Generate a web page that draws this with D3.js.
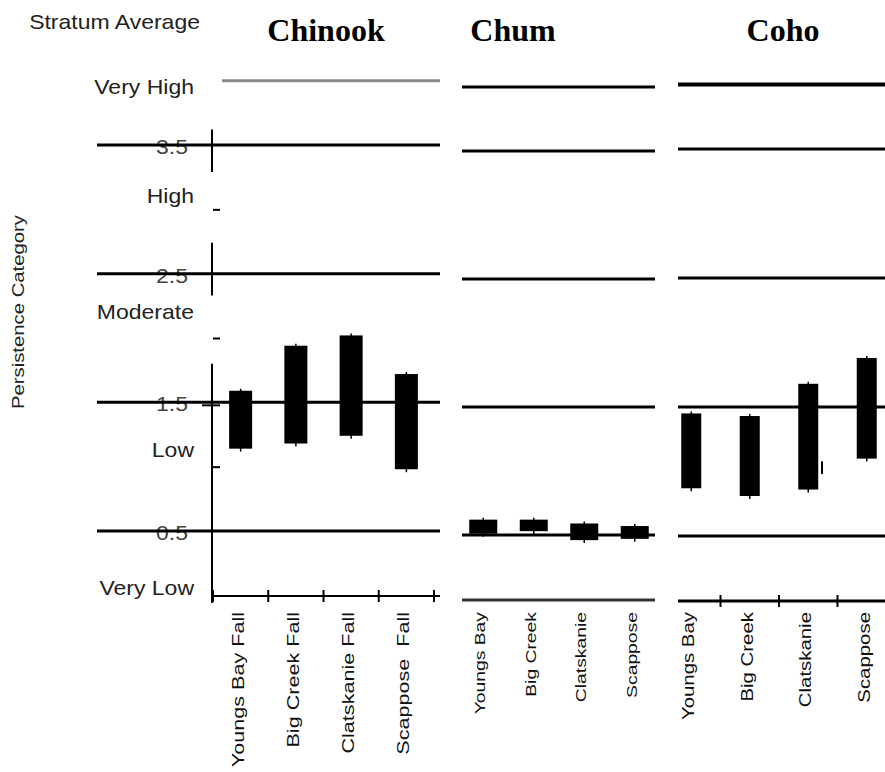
<!DOCTYPE html>
<html>
<head>
<meta charset="utf-8">
<script src="https://cdn.jsdelivr.net/npm/d3@7"></script>
<style>
  body { margin: 0; background: #fff; }
  svg { display: block; }
</style>
</head>
<body>
<svg id="chart" width="885" height="772"></svg>
<script>
// DATA
const species = ['Chinook', 'Chum', 'Coho'];
const chinookSites = ['Youngs Bay Fall', 'Big Creek Fall', 'Clatskanie Fall', 'Scappose  Fall'];
const chumSites = ['Youngs Bay', 'Big Creek', 'Clatskanie', 'Scappose'];
const cohoSites = ['Youngs Bay', 'Big Creek', 'Clatskanie', 'Scappose'];
// persistence range (low / high) per population
const chinookLow = [1.14, 1.18, 1.24, 0.98];
const chinookHigh = [1.59, 1.94, 2.02, 1.72];
const chumLow = [0.51, 0.53, 0.46, 0.47];
const chumHigh = [0.62, 0.62, 0.59, 0.57];
const cohoLow = [0.87, 0.81, 0.86, 1.10];
const cohoHigh = [1.45, 1.43, 1.68, 1.88];
// category boundaries and labels
const boundaries = [0.5, 1.5, 2.5, 3.5];
const boundaryLabels = ['0.5', '1.5', '2.5', '3.5'];
const topBoundary = 4.0;
const categories = ['Very High', 'High', 'Moderate', 'Low', 'Very Low'];
const categoryAt = [3.95, 3.1, 2.2, 1.13, 0.06];
const minorTicks = [1, 2, 3];
// broken pieces of the chinook y axis
const axisPieces = [[3.29, 3.62], [2.33, 2.74], [-0.06, 1.8]];

let svg = d3.select('#chart');
const sans = 'Liberation Sans, Arial, sans-serif';

// panel layout
let layout = [
    { sites: chinookSites, low: chinookLow, high: chinookHigh,
      x0: 97, x1: 440, band: [213, 434], barW: 23, yr: [531, 145], axisY: 596,
      titleX: 326, labFont: 17, labStretch: 1.27, ticks: 'all' },
    { sites: chumSites, low: chumLow, high: chumHigh,
      x0: 462, x1: 655, band: [458, 660], barW: 28, yr: [535, 151], axisY: 600,
      titleX: 513, labFont: 14, labStretch: 1.38, ticks: 'none' },
    { sites: cohoSites, low: cohoLow, high: cohoHigh,
      x0: 678, x1: 885, band: [662, 896], barW: 20, yr: [536, 149], axisY: 601,
      titleX: 783, labFont: 17, labStretch: 1.2, ticks: 'inner' }
];

function stretchText(sel, x, y, sx, rot) {
    sel.attr('transform', 'translate(' + x + ',' + y + ')' + (rot ? ' rotate(-90)' : '') + ' scale(' + sx + ',1)');
    return sel;
}

// left side texts
let yChin = d3.scaleLinear().domain([0.5, 3.5]).range(layout[0].yr);

stretchText(svg.append('text').text('Stratum Average'), 200, 29, 1.15)
    .attr('text-anchor', 'end').attr('font-family', sans).attr('font-size', 20).attr('fill', '#222');

stretchText(svg.append('text').text('Persistence Category'), 18, 312, 1.27, true)
    .attr('text-anchor', 'middle').attr('dy', '0.35em')
    .attr('font-family', sans).attr('font-size', 16).attr('fill', '#222');

categories.forEach(function (c, i) {
    stretchText(svg.append('text').text(c), 194, yChin(categoryAt[i]), 1.15)
        .attr('text-anchor', 'end').attr('dy', '0.35em')
        .attr('font-family', sans).attr('font-size', 20).attr('fill', '#222');
});

boundaryLabels.forEach(function (t, i) {
    stretchText(svg.append('text').text(t), 188, yChin(boundaries[i]) + 2, 1.15)
        .attr('text-anchor', 'end').attr('dy', '0.35em')
        .attr('font-family', sans).attr('font-size', 20).attr('fill', '#444');
});

// chinook y axis pieces
axisPieces.forEach(function (p) {
    svg.append('line')
        .attr('x1', 212).attr('x2', 212)
        .attr('y1', yChin(p[1])).attr('y2', yChin(p[0]))
        .attr('stroke', '#000').attr('stroke-width', 2);
});

let minorAxis = d3.axisRight(yChin).tickValues(minorTicks).tickSize(7).tickFormat('');
svg.append('g').attr('transform', 'translate(213,0)').call(minorAxis)
    .call(g => g.select('.domain').remove())
    .selectAll('line').attr('stroke', '#000').attr('stroke-width', 2);

svg.append('line')
    .attr('x1', 202).attr('x2', 220)
    .attr('y1', yChin(1.5) + 3).attr('y2', yChin(1.5) + 3)
    .attr('stroke', '#000').attr('stroke-width', 2);

// panels
layout.forEach(function (p, k) {
    let y = d3.scaleLinear().domain([0.5, 3.5]).range(p.yr);
    let x = d3.scaleBand().domain(p.sites).range(p.band);

    svg.append('text')
        .attr('x', p.titleX).attr('y', 41)
        .attr('text-anchor', 'middle')
        .attr('font-family', 'Liberation Serif, Times New Roman, serif')
        .attr('font-weight', 'bold').attr('font-size', 32)
        .text(species[k]);

    // top boundary line
    svg.append('line')
        .attr('x1', k === 0 ? 222 : p.x0).attr('x2', p.x1)
        .attr('y1', y(topBoundary)).attr('y2', y(topBoundary))
        .attr('stroke', k === 0 ? '#8a8a8a' : '#000')
        .attr('stroke-width', k === 2 ? 4 : 3);

    svg.append('g').selectAll('line')
        .data(boundaries)
        .enter()
        .append('line')
        .attr('x1', p.x0).attr('x2', p.x1)
        .attr('y1', d => y(d)).attr('y2', d => y(d))
        .attr('stroke', '#000').attr('stroke-width', 3);

    // bars
    let bars = svg.append('g');
    bars.selectAll('rect')
        .data(p.sites)
        .enter()
        .append('rect')
        .attr('x', d => x(d) + x.bandwidth() / 2 - p.barW / 2)
        .attr('width', p.barW)
        .attr('y', (d, i) => y(p.high[i]))
        .attr('height', (d, i) => y(p.low[i]) - y(p.high[i]))
        .attr('fill', '#000');
    bars.selectAll('line')
        .data(p.sites)
        .enter()
        .append('line')
        .attr('x1', d => x(d) + x.bandwidth() / 2).attr('x2', d => x(d) + x.bandwidth() / 2)
        .attr('y1', (d, i) => y(p.high[i]) - 2).attr('y2', (d, i) => y(p.low[i]) + 3)
        .attr('stroke', '#000').attr('stroke-width', 1.5);

    // x axis
    svg.append('line')
        .attr('x1', k === 0 ? 213 : p.x0).attr('x2', p.x1)
        .attr('y1', p.axisY).attr('y2', p.axisY)
        .attr('stroke', k === 1 ? '#333' : '#000')
        .attr('stroke-width', k === 0 ? 2 : 3);

    let tickXs = [];
    if (p.ticks === 'all') tickXs = p.sites.map(d => x(d)).concat([p.band[1]]);
    if (p.ticks === 'inner') tickXs = p.sites.slice(1).map(d => x(d));
    svg.append('g').selectAll('line')
        .data(tickXs)
        .enter()
        .append('line')
        .attr('x1', d => d).attr('x2', d => d)
        .attr('y1', p.axisY - 6).attr('y2', p.axisY + 6)
        .attr('stroke', '#000').attr('stroke-width', 2);

    p.sites.forEach(function (s) {
        stretchText(svg.append('text').text(s), x(s) + x.bandwidth() / 2 - 3, 612, p.labStretch, true)
            .attr('text-anchor', 'end').attr('dy', '0.35em')
            .attr('font-family', sans).attr('font-size', p.labFont).attr('fill', '#111')
            .style('white-space', 'pre');
    });
});

// stray mark in coho panel
let yCoho = d3.scaleLinear().domain([0.5, 3.5]).range(layout[2].yr);
svg.append('line')
    .attr('x1', 822).attr('x2', 822)
    .attr('y1', yCoho(1.08)).attr('y2', yCoho(0.98))
    .attr('stroke', '#000').attr('stroke-width', 2);
</script>
</body>
</html>
